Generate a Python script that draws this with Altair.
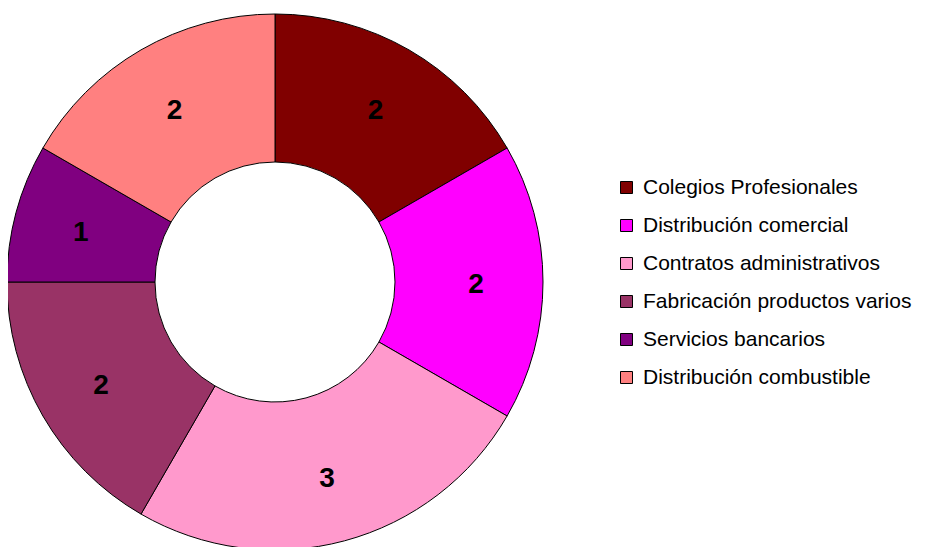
import altair as alt
import pandas as pd

categories = ["Colegios Profesionales", "Distribución comercial", "Contratos administrativos",
              "Fabricación productos varios", "Servicios bancarios", "Distribución combustible"]
values = [2, 2, 3, 2, 1, 2]
colors = ["#800000", "#FF00FF", "#FF99CC", "#993366", "#800080", "#FF8080"]

df = pd.DataFrame({"cat": categories, "val": values, "ord": list(range(len(categories)))})

cx, cy = 267, 274

base = alt.Chart(df).encode(
    theta=alt.Theta("val:Q", stack=True),
    order=alt.Order("ord:Q"),
    x=alt.value(cx), y=alt.value(cy),
)

arcs = base.mark_arc(outerRadius=268, innerRadius=120, stroke="black", strokeWidth=1).encode(
    color=alt.Color("cat:N", scale=alt.Scale(domain=categories, range=colors),
                    sort=categories,
                    legend=alt.Legend(title=None, orient="none", legendX=608, legendY=169,
                                      symbolType="square", symbolSize=144, symbolStrokeColor="black",
                                      symbolStrokeWidth=1, labelFontSize=21, labelFont="Liberation Sans",
                                      labelColor="black", rowPadding=16, labelOffset=6, labelLimit=400))
)

labels = base.mark_text(radius=201, fontSize=28, fontWeight="bold", font="Liberation Sans",
                        color="black", baseline="middle", align="center", dy=3).encode(text="val:Q")

chart = (arcs + labels).properties(
    width=911, height=560, autosize=alt.AutoSizeParams(type="none"), padding=0
).configure_view(stroke=None)

chart.save("out.html", embed_options={"renderer": "svg", "actions": False})
